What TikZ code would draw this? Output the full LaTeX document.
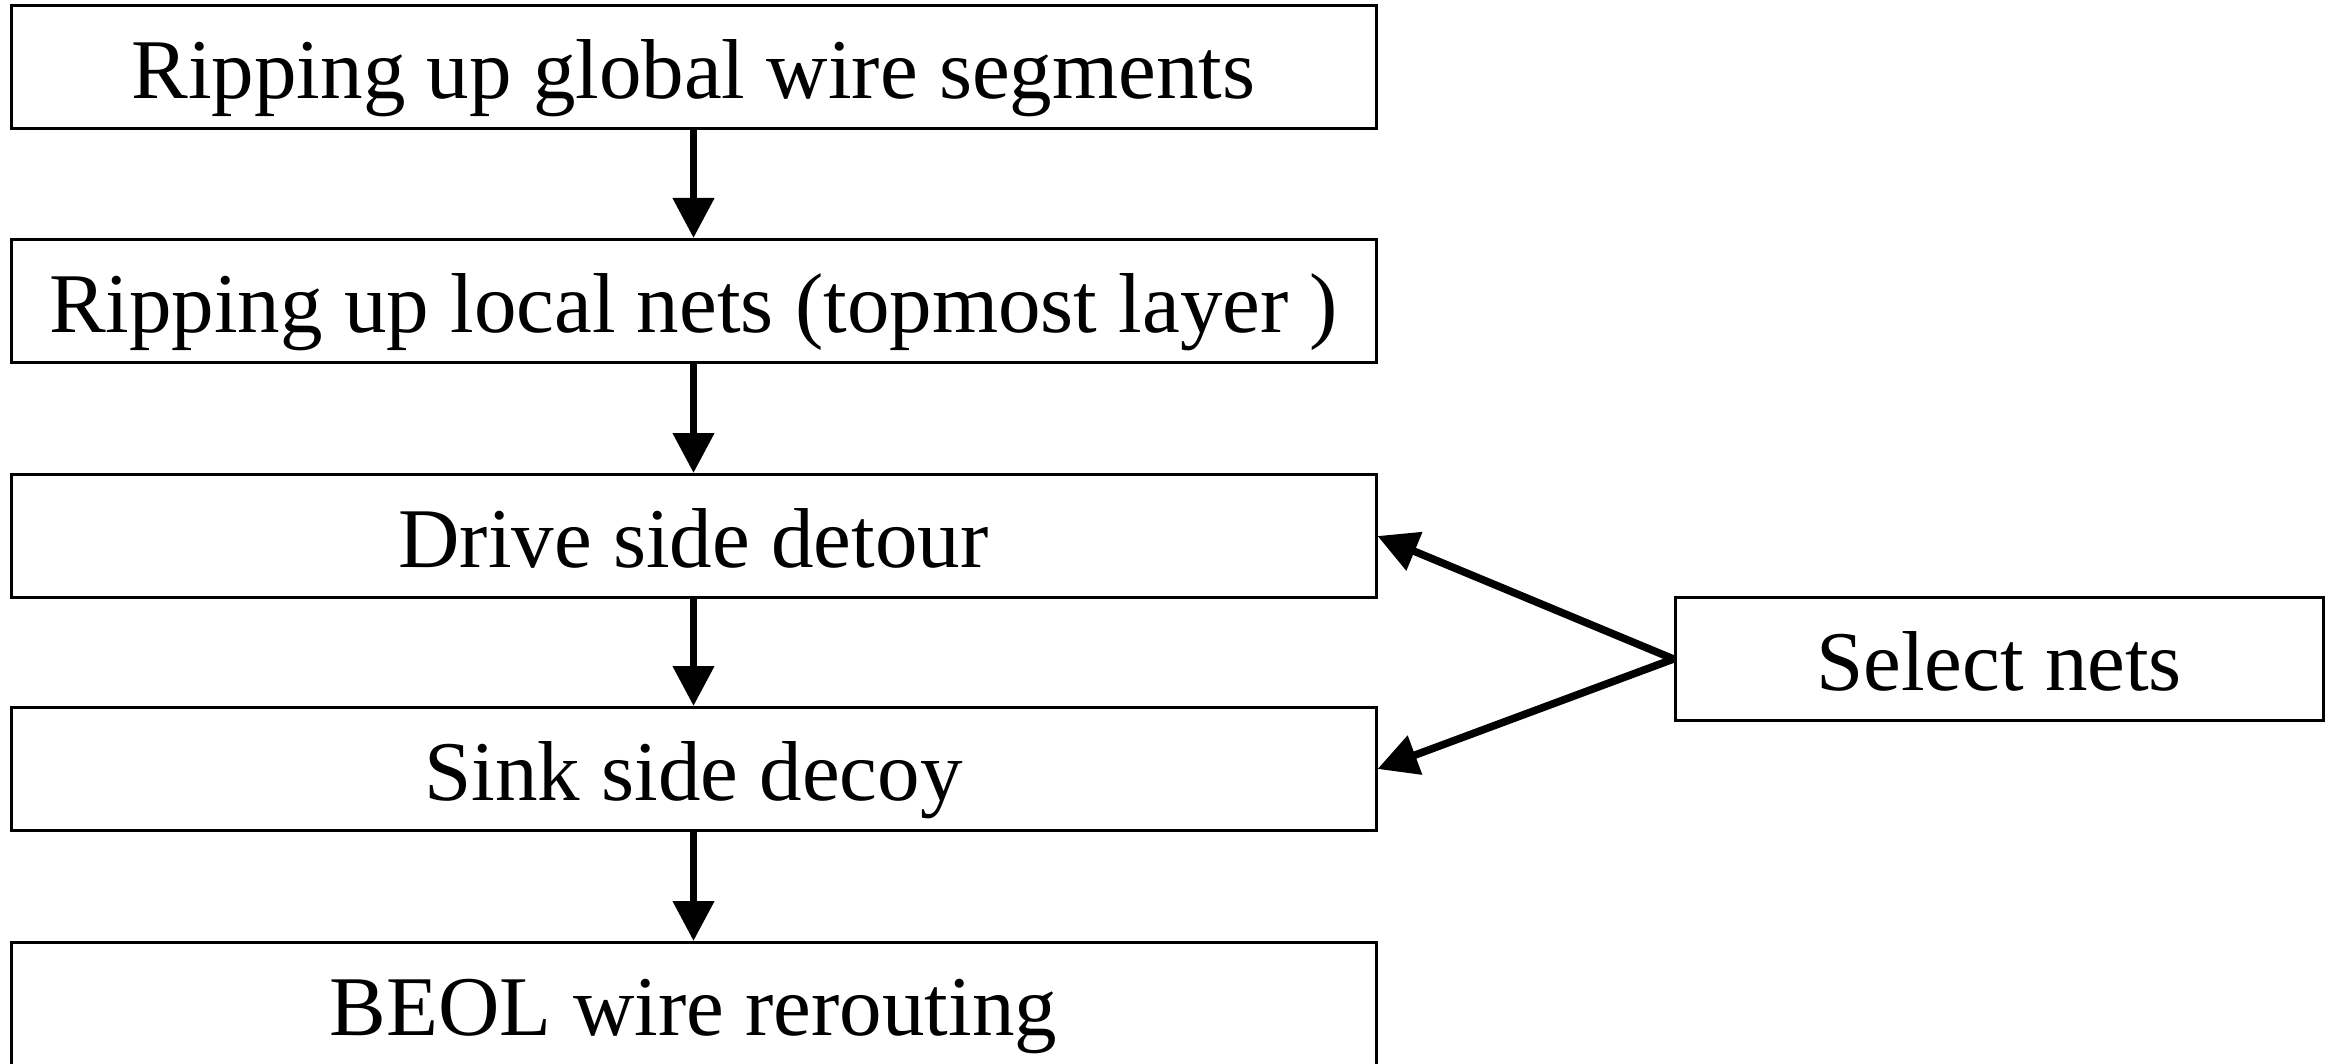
\documentclass[tikz,border=0pt]{standalone}
\usepackage{fontspec}
\setmainfont{Liberation Serif}
\usetikzlibrary{arrows.meta}
\begin{document}
\begin{tikzpicture}[x=0.5pt,y=-0.5pt,
  stepbox/.style={draw=black,line width=1.5pt,minimum width=682.5pt,minimum height=61.5pt,inner sep=0pt,text height=40pt,text depth=8.5pt,font=\fontsize{42.5}{50}\selectfont},
  selbox/.style={stepbox,minimum width=324pt},
  flow/.style={line width=3.8pt,-{Triangle[length=20pt,width=20pt]}}]
\useasboundingbox (0,0) rectangle (2333,1064);
\node[stepbox] (b1) at (693.5,67.5) {Ripping up global wire segments};
\node[stepbox] (b2) at (693.5,301) {Ripping up local nets (topmost layer )};
\node[stepbox] (b3) at (693.5,536) {Drive side detour};
\node[stepbox] (b4) at (693.5,769) {Sink side decoy};
\node[stepbox] (b5) at (693.5,1004) {BEOL wire rerouting};
\node[selbox] (s) at (1999,659) {Select nets};
\draw[flow] (b1.south) -- (b2.north);
\draw[flow] (b2.south) -- (b3.north);
\draw[flow] (b3.south) -- (b4.north);
\draw[flow] (b4.south) -- (b5.north);
\draw[flow] (s.west) -- (b3.east);
\draw[flow] (s.west) -- (b4.east);
\end{tikzpicture}
\end{document}
